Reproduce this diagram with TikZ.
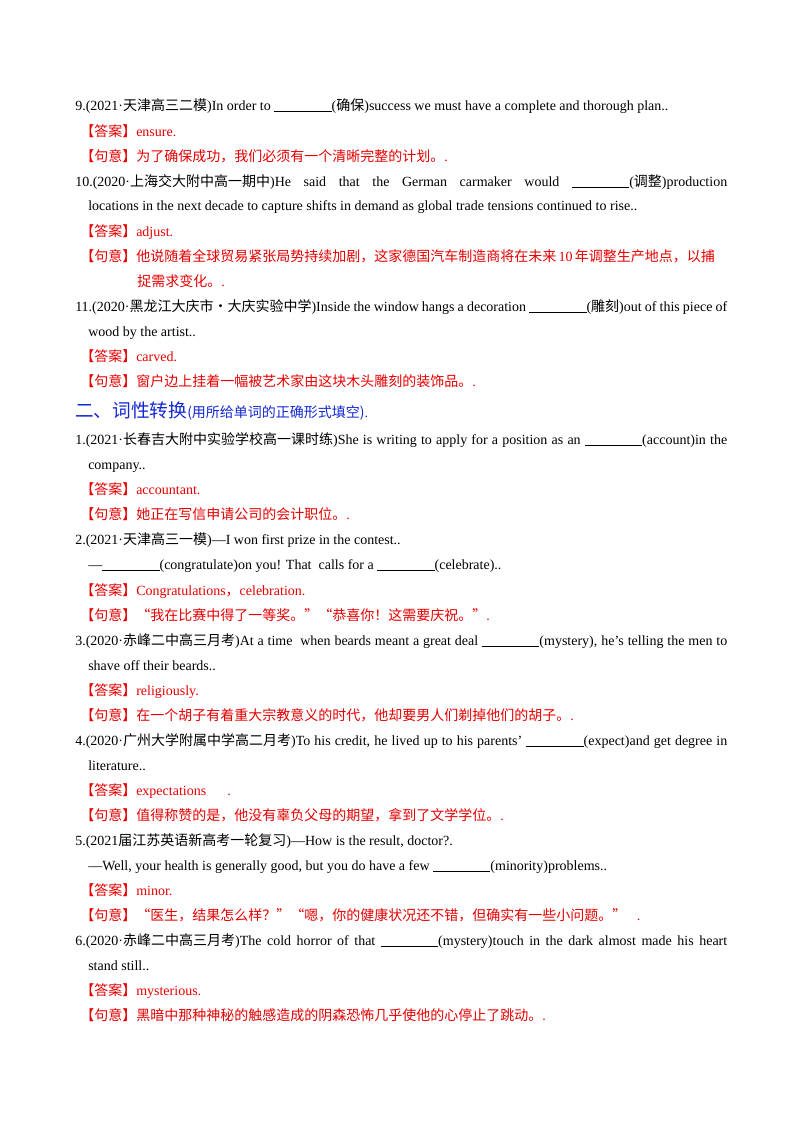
\documentclass[tikz,border=0pt]{standalone}
\usepackage{fontspec}
\setmainfont{Liberation Serif}
\newfontfamily\cjk{Noto Sans CJK SC}
\newcommand{\zh}[1]{{\cjk #1}}
\newcommand{\blank}{\rule[-1.2pt]{43pt}{0.5pt}}
\definecolor{ansred}{RGB}{230,0,0}
\definecolor{headblue}{RGB}{20,40,210}
\newcommand{\full}[1]{\makebox[489pt][s]{#1}}
\tikzset{ln/.style={anchor=base west,inner sep=0pt,font=\fontsize{10.5}{12}\selectfont},
 red/.style={ln,text=ansred}}
\begin{document}
\begin{tikzpicture}[x=0.75pt,y=-0.75pt]
\useasboundingbox[fill=white] (0,0) rectangle (800,1132);
\node[ln] (a1) at (75,110) {9.(2021·\zh{天津高三二模})In order to \blank(\zh{确保})success we must have a complete and thorough plan..};
\node[red] (a2) at (80,136) {\zh{【答案】}ensure.};
\node[red] (a3) at (80,161) {\zh{【句意】为了确保成功，我们必须有一个清晰完整的计划。}.};
\node[ln] (a4) at (75,186) {\full{10.(2020·\zh{上海交大附中高一期中})He said that the German carmaker would \blank(\zh{调整})production}};
\node[ln] (a5) at (88,210) {locations in the next decade to capture shifts in demand as global trade tensions continued to rise..};
\node[red] (a6) at (80,236) {\zh{【答案】}adjust.};
\node[red] (a7) at (80,261) {\zh{【句意】他说随着全球贸易紧张局势持续加剧，这家德国汽车制造商将在未来}\,10\,\zh{年调整生产地点，以捕}};
\node[red] (a8) at (137,286) {\zh{捉需求变化。}.};
\node[ln] (a9) at (75,311) {\full{11.(2020·\zh{黑龙江大庆市·大庆实验中学})Inside the window hangs a decoration \blank(\zh{雕刻})out of this piece of}};
\node[ln] (a10) at (88,336) {wood by the artist..};
\node[red] (a11) at (80,361) {\zh{【答案】}carved.};
\node[red] (a12) at (80,386) {\zh{【句意】窗户边上挂着一幅被艺术家由这块木头雕刻的装饰品。}.};
\node[ln,text=headblue] (h) at (75,417) {{\fontsize{14}{16}\selectfont\zh{二、词性转换}}\zh{(用所给单词的正确形式填空)}.};
\node[ln] (b1) at (75,444) {\full{1.(2021·\zh{长春吉大附中实验学校高一课时练})She is writing to apply for a position as an \blank(account)in the}};
\node[ln] (b2) at (88,469) {company..};
\node[red] (b3) at (80,494) {\zh{【答案】}accountant.};
\node[red] (b4) at (80,519) {\zh{【句意】她正在写信申请公司的会计职位。}.};
\node[ln] (b5) at (75,544) {2.(2021·\zh{天津高三一模})—I won first prize in the contest..};
\node[ln] (b6) at (88,569) {—\blank(congratulate)on you! That\ \ calls for a \blank(celebrate)..};
\node[red] (b7) at (80,595) {\zh{【答案】}Congratulations\zh{，}celebration.};
\node[red] (b8) at (80,620) {\zh{【句意】“我在比赛中得了一等奖。”“恭喜你！这需要庆祝。”}.};
\node[ln] (b9) at (75,645) {\full{3.(2020·\zh{赤峰二中高三月考})At a time\ \ when beards meant a great deal \blank(mystery), he’s telling the men to}};
\node[ln] (b10) at (88,670) {shave off their beards..};
\node[red] (b11) at (80,695) {\zh{【答案】}religiously.};
\node[red] (b12) at (80,720) {\zh{【句意】在一个胡子有着重大宗教意义的时代，他却要男人们剃掉他们的胡子。}.};
\node[ln] (b13) at (75,745) {\full{4.(2020·\zh{广州大学附属中学高二月考})To his credit, he lived up to his parents’ \blank(expect)and get degree in}};
\node[ln] (b14) at (88,770) {literature..};
\node[red] (b15) at (80,795) {\zh{【答案】}expectations\ \ \ \ \ \ .};
\node[red] (b16) at (80,820) {\zh{【句意】值得称赞的是，他没有辜负父母的期望，拿到了文学学位。}.};
\node[ln] (b17) at (75,845) {5.(2021\zh{届江苏英语新高考一轮复习})—How is the result, doctor?.};
\node[ln] (b18) at (88,870) {—Well, your health is generally good, but you do have a few \blank(minority)problems..};
\node[red] (b19) at (80,895) {\zh{【答案】}minor.};
\node[red] (b20) at (80,920) {\zh{【句意】“医生，结果怎么样？”“嗯，你的健康状况还不错，但确实有一些小问题。”}\ \ \ .};
\node[ln] (b21) at (75,945) {\full{6.(2020·\zh{赤峰二中高三月考})The cold horror of that \blank(mystery)touch in the dark almost made his heart}};
\node[ln] (b22) at (88,970) {stand still..};
\node[red] (b23) at (80,995) {\zh{【答案】}mysterious.};
\node[red] (b24) at (80,1020) {\zh{【句意】黑暗中那种神秘的触感造成的阴森恐怖几乎使他的心停止了跳动。}.};
\end{tikzpicture}
\end{document}
